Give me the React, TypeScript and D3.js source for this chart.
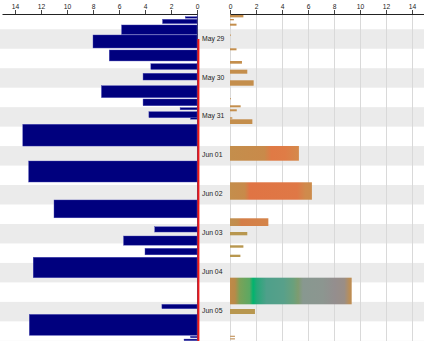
import React, { useEffect, useRef } from 'react';
import * as d3 from 'd3';

// sleep sessions: start time + length in hours (bar width = hours)
const sleepStart = [
  '2019-05-28 22:15', '2019-05-28 23:52', '2019-05-29 03:22', '2019-05-29 09:32',
  '2019-05-29 18:47', '2019-05-30 03:13', '2019-05-30 09:08', '2019-05-30 16:47',
  '2019-05-31 00:59', '2019-05-31 06:20', '2019-05-31 08:48', '2019-05-31 12:30',
  '2019-05-31 16:34', '2019-06-01 15:11', '2019-06-02 15:12', '2019-06-03 07:42',
  '2019-06-03 13:24', '2019-06-03 21:00', '2019-06-04 02:30', '2019-06-05 07:30',
  '2019-06-05 13:42', '2019-06-06 03:12', '2019-06-06 04:54'
];
const sleepHours = [
  0.9, 2.65, 5.8, 8.0, 6.75, 3.55, 4.15, 7.35, 4.15, 1.3, 3.7, 0.5,
  13.4, 12.95, 11.0, 3.25, 5.65, 4.0, 12.6, 2.7, 12.9, 0.5, 1.0
];

// awake periods: start / end and the amount shown on the right
const wakeStart = [
  '2019-05-28 20:50', '2019-05-28 23:41', '2019-05-29 02:34', '2019-05-29 09:14',
  '2019-05-29 17:44', '2019-05-30 01:34', '2019-05-30 06:55', '2019-05-30 13:27',
  '2019-05-31 00:22', '2019-05-31 04:52', '2019-05-31 07:19', '2019-05-31 12:15',
  '2019-05-31 13:29', '2019-06-01 05:56', '2019-06-02 04:18', '2019-06-03 02:29',
  '2019-06-03 10:56', '2019-06-03 19:08', '2019-06-04 00:55', '2019-06-04 15:05',
  '2019-06-05 10:23', '2019-06-06 02:50', '2019-06-06 04:22'
];
const wakeEnd = [
  '2019-05-28 22:40', '2019-05-29 00:29', '2019-05-29 03:48', '2019-05-29 09:50',
  '2019-05-29 18:58', '2019-05-30 03:13', '2019-05-30 09:23', '2019-05-30 16:47',
  '2019-05-31 00:55', '2019-05-31 06:05', '2019-05-31 08:33', '2019-05-31 13:07',
  '2019-05-31 16:23', '2019-06-01 15:00', '2019-06-02 15:02', '2019-06-03 07:14',
  '2019-06-03 12:58', '2019-06-03 20:36', '2019-06-04 02:20', '2019-06-05 07:29',
  '2019-06-05 13:28', '2019-06-06 03:34', '2019-06-06 05:06'
];
const wakeValue = [
  1.03, 0.3, 0.5, 0.05, 0.5, 0.92, 1.33, 1.82, 0.05, 0.82, 0.52, 0.18,
  1.72, 5.3, 6.3, 2.95, 1.33, 1.03, 0.8, 9.36, 1.92, 0.38, 0.38
];

const dayTicks = [
  '2019-05-29 12:00', '2019-05-30 12:00', '2019-05-31 12:00', '2019-06-01 12:00',
  '2019-06-02 12:00', '2019-06-03 12:00', '2019-06-04 12:00', '2019-06-05 12:00'
];
const dayLabels = ['May 29', 'May 30', 'May 31', 'Jun 01', 'Jun 02', 'Jun 03', 'Jun 04', 'Jun 05'];
const xTicks = [0, 2, 4, 6, 8, 10, 12, 14];

// fill styles for the right-hand bars
const TAN = '#c48e4c';
const OLIVE = '#b8974f';
const wakeFill: Record<number, string> = { 16: OLIVE, 17: OLIVE, 18: OLIVE, 20: OLIVE, 21: '#c9a070', 22: '#c9a070' };
const wakeGradient: Record<number, [number, string][]> = {
  13: [[0, '#c48e4c'], [0.5, '#c98a4a'], [0.6, '#e07a45'], [0.8, '#df7c46'], [1, '#d48a4c']],
  14: [[0, '#c48e4c'], [0.18, '#c88a4a'], [0.24, '#e07444'], [0.82, '#df7846'], [0.92, '#d08a4c'], [1, '#cc8c4c']],
  15: [[0, '#c09050'], [0.2, '#c48c4c'], [0.3, '#d47e48'], [1, '#d4844a']],
  19: [
    [0, '#c08a48'], [0.04, '#b88a48'], [0.08, '#7aa258'], [0.16, '#5ca862'], [0.19, '#00b46e'],
    [0.22, '#26a878'], [0.3, '#4ea08a'], [0.44, '#58a08a'], [0.52, '#6aa07c'], [0.56, '#7e9c70'],
    [0.6, '#889890'], [0.76, '#8c9690'], [0.86, '#948e8e'], [0.94, '#9a8e86'], [0.98, '#b88e5a'], [1, '#c08c50']
  ]
};

const W = 424;
const H = 343;
const FONT = '"Liberation Sans", Arial, sans-serif';

export default function App() {
  const svgRef = useRef<SVGSVGElement>(null);

  useEffect(() => {
    const svg = d3.select(svgRef.current);
    svg.selectAll('*').remove();

    const parse = d3.timeParse('%Y-%m-%d %H:%M');
    const top = 14;
    const bottom = 341;

    const y = d3.scaleTime()
      .domain([parse('2019-05-28 20:36')!, parse('2019-06-06 06:06')!])
      .range([top, bottom]);
    const xL = d3.scaleLinear().domain([0, 15]).range([197, 2]);
    const xR = d3.scaleLinear().domain([0, 15]).range([230, 425]);

    const defs = svg.append('defs');

    // night/day shading: 06:00 - 18:00 of each day
    const bandDays = d3.timeDay.range(d3.timeDay.floor(y.domain()[0]), y.domain()[1]);
    bandDays.forEach(d => {
      const a = Math.max(top, y(d3.timeHour.offset(d, 6)));
      const b = Math.min(bottom, y(d3.timeHour.offset(d, 18)));
      if (b <= a) return;
      svg.append('rect')
        .attr('x', 0).attr('y', a)
        .attr('width', W).attr('height', b - a)
        .attr('fill', '#ebebeb');
    });

    // right gridlines
    xTicks.forEach(t => {
      svg.append('line')
        .attr('x1', xR(t) + 0.5).attr('x2', xR(t) + 0.5)
        .attr('y1', top).attr('y2', bottom)
        .attr('stroke', '#d9d9d9')
        .attr('stroke-width', 1);
    });

    // sleep bars (left, growing leftwards from 0)
    const sleep = sleepStart.map((s, i) => ({ start: parse(s)!, hours: sleepHours[i] }));
    svg.selectAll('.sleep')
      .data(sleep)
      .enter()
      .append('rect')
      .attr('class', 'sleep')
      .attr('x', d => xL(d.hours))
      .attr('y', d => y(d.start))
      .attr('width', d => xL(0) - xL(d.hours))
      .attr('height', d => Math.max(1.5, y(d3.timeMinute.offset(d.start, Math.round(d.hours * 60))) - y(d.start)))
      .attr('fill', '#00007e')
      .attr('stroke', '#4646b4')
      .attr('stroke-width', 0.4);

    // awake bars (right)
    const wake = wakeStart.map((s, i) => ({ start: parse(s)!, end: parse(wakeEnd[i])!, value: wakeValue[i], i }));
    wake.forEach(d => {
      let fill = wakeFill[d.i] || TAN;
      const stops = wakeGradient[d.i];
      if (stops) {
        const id = `wake-grad-${d.i}`;
        const grad = defs.append('linearGradient')
          .attr('id', id)
          .attr('x1', '0').attr('x2', '1').attr('y1', '0').attr('y2', '0');
        stops.forEach(([o, c]) => grad.append('stop').attr('offset', o).attr('stop-color', c));
        fill = `url(#${id})`;
      }
      svg.append('rect')
        .attr('x', xR(0))
        .attr('y', y(d.start))
        .attr('width', Math.max(0.8, xR(d.value) - xR(0)))
        .attr('height', Math.max(1.3, y(d.end) - y(d.start)))
        .attr('fill', fill);
    });

    // day labels between the panels
    dayTicks.forEach((t, i) => {
      svg.append('text')
        .attr('x', 202)
        .attr('y', y(parse(t)!) - 0.8)
        .attr('dy', '0.35em')
        .attr('font-family', FONT)
        .attr('font-size', 6.8)
        .attr('fill', '#222')
        .text(dayLabels[i]);
    });

    // zero line and tracking marker
    svg.append('line')
      .attr('x1', 197.5).attr('x2', 197.5)
      .attr('y1', top).attr('y2', bottom)
      .attr('stroke', '#1a1a5a')
      .attr('stroke-width', 0.8);
    svg.append('line')
      .attr('x1', 198.4).attr('x2', 198.4)
      .attr('y1', y(parse(dayTicks[0])!)).attr('y2', bottom)
      .attr('stroke', '#f01818')
      .attr('stroke-width', 2);

    // top axes
    const styleAxis = (g: any) => {
      g.select('.domain').attr('stroke', '#222');
      g.selectAll('.tick line').attr('stroke', '#444');
      g.selectAll('.tick text')
        .attr('font-family', FONT)
        .attr('font-size', 6.7)
        .attr('fill', '#222');
    };
    svg.append('g')
      .attr('transform', `translate(0,${top})`)
      .call(d3.axisTop(xL).tickValues(xTicks).tickSize(4).tickSizeOuter(0).tickPadding(1.5))
      .call(styleAxis);
    svg.append('g')
      .attr('transform', `translate(0,${top})`)
      .call(d3.axisTop(xR).tickValues(xTicks).tickSize(4).tickSizeOuter(0).tickPadding(1.5))
      .call(styleAxis);
  }, []);

  return (
    <div style={{ position: 'absolute', left: 0, top: 0, background: '#fff' }}>
      <svg ref={svgRef} width={W} height={H} style={{ display: 'block' }} />
    </div>
  );
}
